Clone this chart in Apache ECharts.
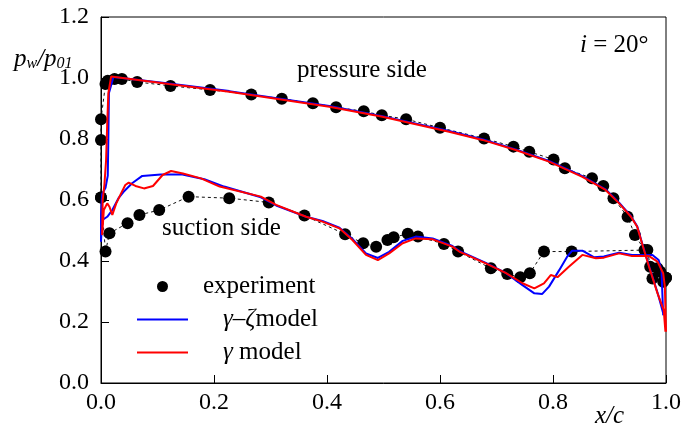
<!DOCTYPE html>
<html>
<head>
<meta charset="utf-8">
<script src="https://cdn.jsdelivr.net/npm/echarts@6/dist/echarts.min.js"></script>
<style>
html,body{margin:0;padding:0;background:#fff;}
#chart{width:684px;height:430px;}
</style>
</head>
<body>
<div id="chart"></div>
<script>
// ---- Tick labels ----
const xTicks = [0.0, 0.2, 0.4, 0.6, 0.8, 1.0];
const yTicks = [0.0, 0.2, 0.4, 0.6, 0.8, 1.0, 1.2];

// ---- Experiment: pressure side (LE -> TE) ----
const expPsX = [0.000,0.000,0.000,0.008,0.012,0.024,0.037,0.064,0.123,0.193,0.266,0.320,0.375,0.416,0.465,0.497,0.540,0.600,0.678,0.730,0.758,0.801,0.821,0.869,0.889,0.907,0.932,0.945,0.962,0.972,0.985,0.995,1.000];
const expPsY = [0.608,0.797,0.865,0.980,0.991,0.997,0.997,0.987,0.974,0.961,0.946,0.932,0.917,0.904,0.891,0.878,0.865,0.837,0.802,0.775,0.758,0.733,0.704,0.671,0.646,0.606,0.545,0.485,0.436,0.381,0.376,0.332,0.345];
// ---- Experiment: suction side (LE -> TE) ----
const expSsX = [0.000,0.008,0.015,0.047,0.068,0.103,0.155,0.227,0.297,0.360,0.432,0.464,0.487,0.507,0.518,0.543,0.561,0.607,0.632,0.690,0.719,0.742,0.759,0.784,0.833,0.967,0.976,0.990,1.000];
const expSsY = [0.608,0.431,0.491,0.524,0.551,0.567,0.611,0.606,0.592,0.549,0.488,0.458,0.447,0.469,0.478,0.489,0.480,0.456,0.431,0.376,0.357,0.347,0.360,0.431,0.431,0.436,0.343,0.365,0.345];

// ---- gamma-zeta model (blue): pressure side TE->LE, then suction side LE->TE ----
const gzX = [0.996,0.986,0.971,0.961,0.949,0.938,0.917,0.893,0.852,0.793,0.734,0.675,0.616,0.498,0.404,0.227,0.120,0.022,0.014,0.013,0.012,0.008,0.002,0.000,0.000,
             0.002,0.011,0.020,0.031,0.040,0.055,0.073,0.106,0.142,0.183,0.218,0.283,0.310,0.363,0.392,0.422,0.445,0.469,0.490,0.510,0.534,0.557,0.587,0.622,0.634,0.681,0.717,0.746,0.767,0.781,0.793,0.811,0.825,0.834,0.852,0.873,0.890,0.917,0.940,0.976,0.987,0.992,0.995];
const gzY = [0.222,0.290,0.378,0.438,0.514,0.547,0.591,0.635,0.678,0.728,0.766,0.799,0.826,0.875,0.908,0.957,0.982,1.003,0.950,0.800,0.680,0.640,0.620,0.550,0.463,
             0.534,0.545,0.567,0.606,0.627,0.655,0.679,0.684,0.684,0.668,0.644,0.609,0.582,0.545,0.531,0.509,0.472,0.425,0.410,0.430,0.466,0.480,0.474,0.449,0.433,0.394,0.360,0.321,0.294,0.292,0.316,0.370,0.414,0.434,0.434,0.412,0.415,0.427,0.420,0.420,0.403,0.370,0.222];

// ---- gamma model (red): pressure side TE->LE, then suction side LE->TE ----
const gX = [0.999,0.996,0.985,0.970,0.961,0.949,0.938,0.917,0.893,0.852,0.793,0.734,0.675,0.616,0.498,0.404,0.227,0.120,0.018,0.013,0.011,0.009,0.006,0.003,0.002,
            0.005,0.011,0.015,0.020,0.023,0.027,0.034,0.043,0.049,0.061,0.076,0.092,0.109,0.124,0.145,0.177,0.210,0.283,0.310,0.363,0.392,0.422,0.445,0.469,0.490,0.510,0.534,0.557,0.587,0.622,0.634,0.681,0.717,0.746,0.767,0.784,0.796,0.808,0.828,0.852,0.876,0.890,0.917,0.940,0.970,0.985,0.995,0.998,1.000];
const gY = [0.168,0.239,0.294,0.381,0.436,0.512,0.545,0.589,0.633,0.676,0.726,0.764,0.797,0.824,0.873,0.906,0.955,0.980,1.005,0.950,0.850,0.730,0.650,0.600,0.485,
            0.567,0.589,0.578,0.551,0.556,0.589,0.616,0.649,0.657,0.646,0.638,0.646,0.682,0.695,0.687,0.671,0.644,0.611,0.584,0.545,0.529,0.507,0.469,0.420,0.403,0.425,0.458,0.474,0.471,0.447,0.431,0.392,0.360,0.327,0.310,0.327,0.354,0.347,0.381,0.420,0.409,0.411,0.425,0.416,0.416,0.398,0.360,0.316,0.168];

const zip = (xs, ys) => xs.map((x, i) => [x, ys[i]]);
const FONT = "'Liberation Serif','Times New Roman',serif";
const BLACK = '#000';
const TXT = 25;

const chart = echarts.init(document.getElementById('chart'), null, {renderer: 'canvas'});

const axisCommon = {
  type: 'value',
  axisLine: {show: true, lineStyle: {color: BLACK, width: 1}},
  axisTick: {show: true, inside: true, length: 8, lineStyle: {color: BLACK, width: 1}},
  splitLine: {show: false},
  axisLabel: {color: BLACK, fontSize: 24, fontFamily: FONT, formatter: v => v.toFixed(1)}
};

chart.setOption({
  animation: false,
  backgroundColor: '#fff',
  grid: {left: 101, right: 17, top: 17, bottom: 47, show: true, borderColor: BLACK, borderWidth: 1, backgroundColor: 'transparent'},
  xAxis: Object.assign({}, axisCommon, {min: xTicks[0], max: xTicks[xTicks.length-1], interval: 0.2,
    axisLabel: Object.assign({}, axisCommon.axisLabel, {margin: 8})}),
  yAxis: Object.assign({}, axisCommon, {min: yTicks[0], max: yTicks[yTicks.length-1], interval: 0.2,
    axisLabel: Object.assign({}, axisCommon.axisLabel, {margin: 12})}),
  legend: {
    orient: 'vertical',
    left: 131,
    top: 269,
    itemWidth: 51,
    itemHeight: 11,
    itemGap: 8,
    selectedMode: false,
    data: [
      {name: 'experiment', icon: 'circle'},
      {name: 'γ–ζ model', itemStyle: {opacity: 0}, lineStyle: {width: 2, color: '#0000ff'}},
      {name: 'γ model', itemStyle: {opacity: 0}, lineStyle: {width: 2, color: '#ff0000'}}
    ],
    textStyle: {
      color: BLACK, fontSize: TXT, fontFamily: FONT,
      rich: {
        e: {color: BLACK, fontSize: TXT, fontFamily: FONT, padding: [0, 0, 0, 10]},
        g: {color: BLACK, fontSize: TXT, fontFamily: FONT, fontStyle: 'italic', padding: [0, 0, 0, 30]},
        m: {color: BLACK, fontSize: TXT, fontFamily: FONT}
      }
    },
    formatter: function (name) {
      if (name === 'experiment') return '{e|experiment}';
      if (name === 'γ–ζ model') return '{g|γ–ζ}{m|model}';
      return '{g|γ}{m| model}';
    }
  },
  graphic: [
    {type: 'text', left: 14, top: 47, style: {
      text: '{i|p}{s|w}{i|/p}{s|01}', fill: BLACK,
      rich: {
        i: {fontSize: 25, fontFamily: FONT, fontStyle: 'italic', fill: BLACK, lineHeight: 25, padding: [0, 0, 5, 0], verticalAlign: 'top'},
        s: {fontSize: 16, fontFamily: FONT, fontStyle: 'italic', fill: BLACK, lineHeight: 17, verticalAlign: 'bottom'}
      }}},
    {type: 'text', left: 595, top: 404, style: {text: 'x/c', fill: BLACK, font: 'italic ' + TXT + 'px ' + FONT}},
    {type: 'text', left: 297, top: 58, style: {text: 'pressure side', fill: BLACK, font: TXT + 'px ' + FONT}},
    {type: 'text', left: 162, top: 216, style: {text: 'suction side', fill: BLACK, font: TXT + 'px ' + FONT}},
    {type: 'text', left: 580, top: 33, style: {
      text: '{i|i}{n| = 20°}', fill: BLACK,
      rich: {
        i: {fontSize: TXT, fontFamily: FONT, fontStyle: 'italic', fill: BLACK},
        n: {fontSize: TXT, fontFamily: FONT, fill: BLACK}
      }}}
  ],
  series: [
    {name: 'expPsLine', type: 'line', data: zip(expPsX, expPsY), symbol: 'none', silent: true,
     lineStyle: {color: '#111', width: 1, type: [3, 3]}, z: 1},
    {name: 'expSsLine', type: 'line', data: zip(expSsX, expSsY), symbol: 'none', silent: true,
     lineStyle: {color: '#111', width: 1, type: [3, 3]}, z: 1},
    {name: 'experiment', type: 'scatter', data: zip(expPsX, expPsY).concat(zip(expSsX, expSsY)),
     symbol: 'circle', symbolSize: 12, itemStyle: {color: BLACK, opacity: 1}, z: 2},
    {name: 'γ–ζ model', type: 'line', data: zip(gzX, gzY), symbol: 'none',
     lineStyle: {color: '#0000ff', width: 2}, itemStyle: {color: '#0000ff'}, z: 3},
    {name: 'γ model', type: 'line', data: zip(gX, gY), symbol: 'none',
     lineStyle: {color: '#ff0000', width: 2}, itemStyle: {color: '#ff0000'}, z: 4}
  ]
});
</script>
</body>
</html>
